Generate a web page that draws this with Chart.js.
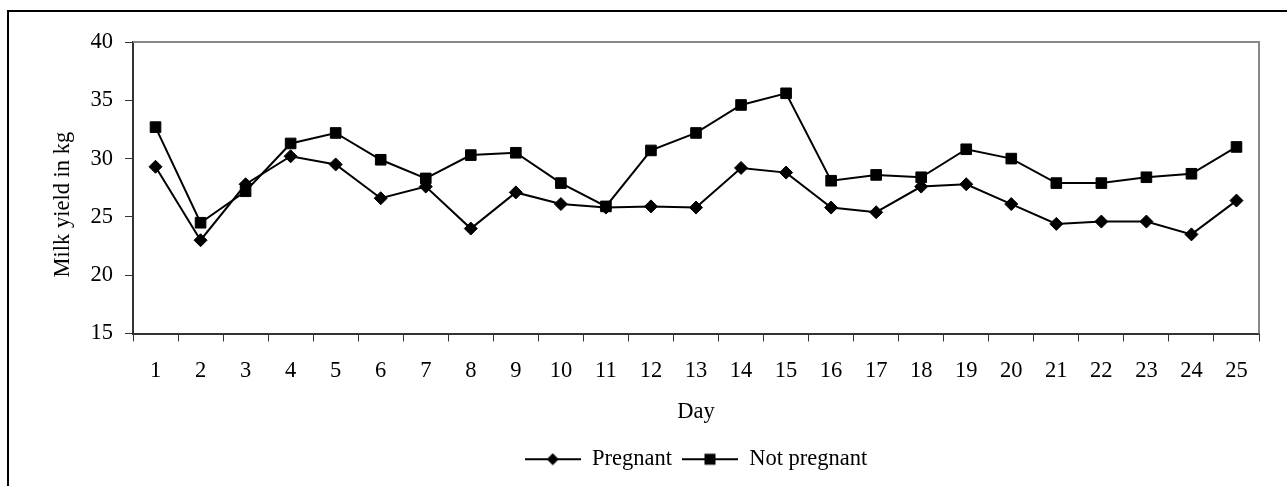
<!DOCTYPE html>
<html>
<head>
<meta charset="utf-8">
<script src="https://cdn.jsdelivr.net/npm/chart.js@4/dist/chart.umd.min.js"></script>
<style>
  html, body { margin: 0; padding: 0; background: #fff; }
  #wrap { width: 1287px; height: 486px; position: relative; }
</style>
</head>
<body>
<div id="wrap"><canvas id="milkChart"></canvas></div>
<script>
'use strict';

const days = ['1', '2', '3', '4', '5', '6', '7', '8', '9', '10', '11', '12', '13',
  '14', '15', '16', '17', '18', '19', '20', '21', '22', '23', '24', '25'];
const pregnant = [29.3, 23.0, 27.8, 30.2, 29.5, 26.6, 27.6, 24.0, 27.1, 26.1, 25.8, 25.9, 25.8,
  29.2, 28.8, 25.8, 25.4, 27.6, 27.8, 26.1, 24.4, 24.6, 24.6, 23.5, 26.4];
const notPregnant = [32.7, 24.5, 27.2, 31.3, 32.2, 29.9, 28.3, 30.3, 30.5, 27.9, 25.9, 30.7, 32.2,
  34.6, 35.6, 28.1, 28.6, 28.4, 30.8, 30.0, 27.9, 27.9, 28.4, 28.7, 31.0];
const yTicks = [15, 20, 25, 30, 35, 40];

const serif = "'Liberation Serif', 'Times New Roman', serif";
const fontSize = 22.5;
const ink = '#000000';
const axisColor = '#333333';

// small canvas: line with the marker in the middle, for the legend
const legendMark = (shape) => {
	const c = document.createElement('canvas');
	c.width = 56;
	c.height = 14;
	const g = c.getContext('2d');
	g.strokeStyle = ink;
	g.lineWidth = 2;
	g.beginPath();
	g.moveTo(0, 7);
	g.lineTo(56, 7);
	g.stroke();
	g.fillStyle = ink;
	g.beginPath();
	if (shape === 'diamond') {
		g.moveTo(28, 1);
		g.lineTo(34, 7);
		g.lineTo(28, 13);
		g.lineTo(22, 7);
	} else {
		g.rect(22.5, 1.5, 11, 11);
	}
	g.closePath();
	g.fill();
	return c;
};
const legendMarks = [legendMark('diamond'), legendMark('square')];

const frame = {
	id: 'frame',
	beforeDraw(chart) {
		const ctx = chart.ctx;
		ctx.save();
		ctx.fillStyle = '#fff';
		ctx.fillRect(0, 0, chart.width, chart.height);
		ctx.strokeStyle = ink;
		ctx.lineWidth = 2;
		ctx.strokeRect(8, 11, chart.width + 20, chart.height + 20);
		ctx.restore();
	},
	afterDraw(chart) {
		const a = chart.chartArea;
		const ctx = chart.ctx;
		ctx.save();
		ctx.strokeStyle = '#888888';
		ctx.lineWidth = 2;
		ctx.beginPath();
		ctx.moveTo(a.left, a.top);
		ctx.lineTo(a.right, a.top);
		ctx.lineTo(a.right, a.bottom);
		ctx.stroke();
		ctx.restore();
	},
};

const chart = new Chart(document.getElementById('milkChart'), {
	type: 'line',
	data: {
		labels: days,
		datasets: [
			{
				label: 'Pregnant',
				data: pregnant,
				borderColor: ink,
				backgroundColor: ink,
				borderWidth: 2,
				pointStyle: 'rectRot',
				pointRadius: 6.5,
				pointBorderWidth: 1,
				tension: 0,
			},
			{
				label: 'Not pregnant',
				data: notPregnant,
				borderColor: ink,
				backgroundColor: ink,
				borderWidth: 2,
				pointStyle: 'rect',
				pointRadius: 7.5,
				pointBorderWidth: 1,
				tension: 0,
			},
		],
	},
	options: {
		responsive: true,
		maintainAspectRatio: false,
		animation: false,
		devicePixelRatio: 1,
		layout: { padding: { top: 42, right: 28, left: 0, bottom: 5.5 } },
		plugins: {
			tooltip: { enabled: false },
			legend: {
				position: 'bottom',
				fullSize: false,
				labels: {
					usePointStyle: true,
					pointStyleWidth: 56,
					padding: 10,
					color: ink,
					font: { family: serif, size: fontSize },
					generateLabels: (c) => {
						const items = Chart.defaults.plugins.legend.labels.generateLabels(c);
						items.forEach((it, i) => { it.pointStyle = legendMarks[i]; });
						return items;
					},
				},
			},
		},
		scales: {
			x: {
				offset: true,
				grid: {
					offset: true,
					drawOnChartArea: false,
					drawTicks: true,
					tickLength: 8,
					color: axisColor,
				},
				border: { display: true, color: axisColor, width: 2 },
				ticks: {
					color: ink,
					font: { family: serif, size: fontSize },
					padding: 16,
					maxRotation: 0,
					autoSkip: false,
				},
				title: {
					display: true,
					text: 'Day',
					color: ink,
					font: { family: serif, size: fontSize },
					padding: { top: 0, bottom: 12 },
				},
				afterFit: (s) => { s.height = 104.5; },
			},
			y: {
				min: 15,
				max: 40,
				afterBuildTicks: (s) => { s.ticks = yTicks.map((v) => ({ value: v })); },
				grid: {
					drawOnChartArea: false,
					drawTicks: true,
					tickLength: 8,
					color: axisColor,
				},
				border: { display: true, color: axisColor, width: 2 },
				ticks: {
					color: ink,
					font: { family: serif, size: fontSize },
					padding: 12,
				},
				title: {
					display: true,
					text: 'Milk yield in kg      ',
					color: ink,
					font: { family: serif, size: fontSize },
					padding: { top: 50, bottom: 0 },
				},
				afterFit: (s) => { s.width = 133; },
			},
		},
	},
	plugins: [frame],
});
</script>
</body>
</html>
